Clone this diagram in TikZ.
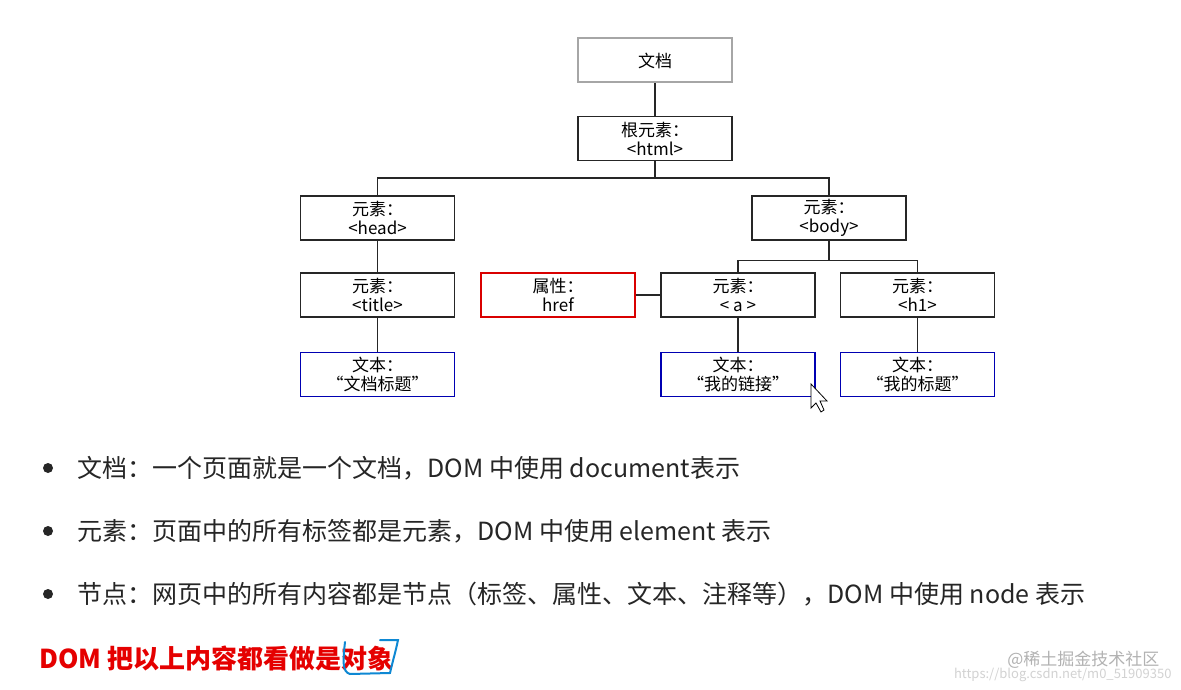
\documentclass[tikz,border=0pt]{standalone}
\usepackage{fontspec}
\setmainfont{Noto Sans CJK SC}
\begin{document}
\begin{tikzpicture}[x=1pt,y=-1pt,
 bx/.style={draw=black!85,line width=1.3pt,minimum width=154pt,minimum height=44pt,inner sep=0pt,align=center,font=\fontsize{17}{19}\selectfont},
 ln/.style={line width=1.3pt,black!85},
 bl/.style={anchor=west,font=\fontsize{25}{28}\selectfont,text=black!85}]
\useasboundingbox (0,0) rectangle (1181,690);
\fill[white] (0,0) rectangle (1181,690);
\node[bx,draw=gray!70,line width=2pt] (doc) at (655,60.5) {文档};
\node[bx] (html) at (655,138.5) {根元素：\\<html>};
\node[bx] (head) at (377.5,218) {元素：\\<head>};
\node[bx] (body) at (829,218) {元素：\\<body>};
\node[bx] (title) at (377.5,295) {元素：\\<title>};
\node[bx,draw=red!85!black] (attr) at (558,295) {属性：\\href};
\node[bx] (a) at (738,295) {元素：\\< a >};
\node[bx] (h1) at (917.5,295) {元素：\\<h1>};
\node[bx,draw=blue!70!black] (t1) at (377.5,374.5) {文本：\\“文档标题”};
\node[bx,draw=blue!70!black] (t2) at (738,374.5) {文本：\\“我的链接”};
\node[bx,draw=blue!70!black] (t3) at (917.5,374.5) {文本：\\“我的标题”};
\draw[ln] (doc) -- (html);
\draw[ln] (html.south) -- ++(0,17) -| (head.north);
\draw[ln] (html.south) -- ++(0,17) -| (body.north);
\draw[ln] (body.south) -- ++(0,20) -| (a.north);
\draw[ln] (body.south) -- ++(0,20) -| (h1.north);
\draw[ln] (head) -- (title);
\draw[ln] (title) -- (t1);
\draw[ln] (attr) -- (a);
\draw[ln] (a) -- (t2);
\draw[ln] (h1) -- (t3);
\draw[black,fill=white,line width=0.8pt] (811,384) -- (811,408) -- (816,403) -- (821,412) -- (824,410) -- (820,401) -- (827,401) -- cycle;
\foreach \y/\t in {468/{文档：一个页面就是一个文档，DOM 中使用 document表示},531/{元素：页面中的所有标签都是元素，DOM 中使用 element 表示},594/{节点：网页中的所有内容都是节点（标签、属性、文本、注释等），DOM 中使用 node 表示}}{
 \fill[black!85] (48,\y) circle (5);
 \node[bl] at (74,\y) {\t};}
\node[anchor=west,font=\bfseries\fontsize{26}{28}\selectfont,text=red!90!black] (dom) at (36,658) {DOM 把以上内容都看做是对象};
\draw[cyan!70!blue,line width=2pt,line cap=round] (345,642) .. controls (343,660) and (342,672) .. (350,674) -- (390,673) .. controls (393,660) and (396,650) .. (398,640) -- (380,640);
\node[anchor=east,font=\fontsize{17}{18}\selectfont,text=gray!60] (wm1) at (1163,660) {@稀土掘金技术社区};
\node[anchor=east,font=\fontsize{13}{15}\selectfont,text=gray!35] (wm2) at (1175,675) {https://blog.csdn.net/m0\_51909350};
\end{tikzpicture}
\end{document}
